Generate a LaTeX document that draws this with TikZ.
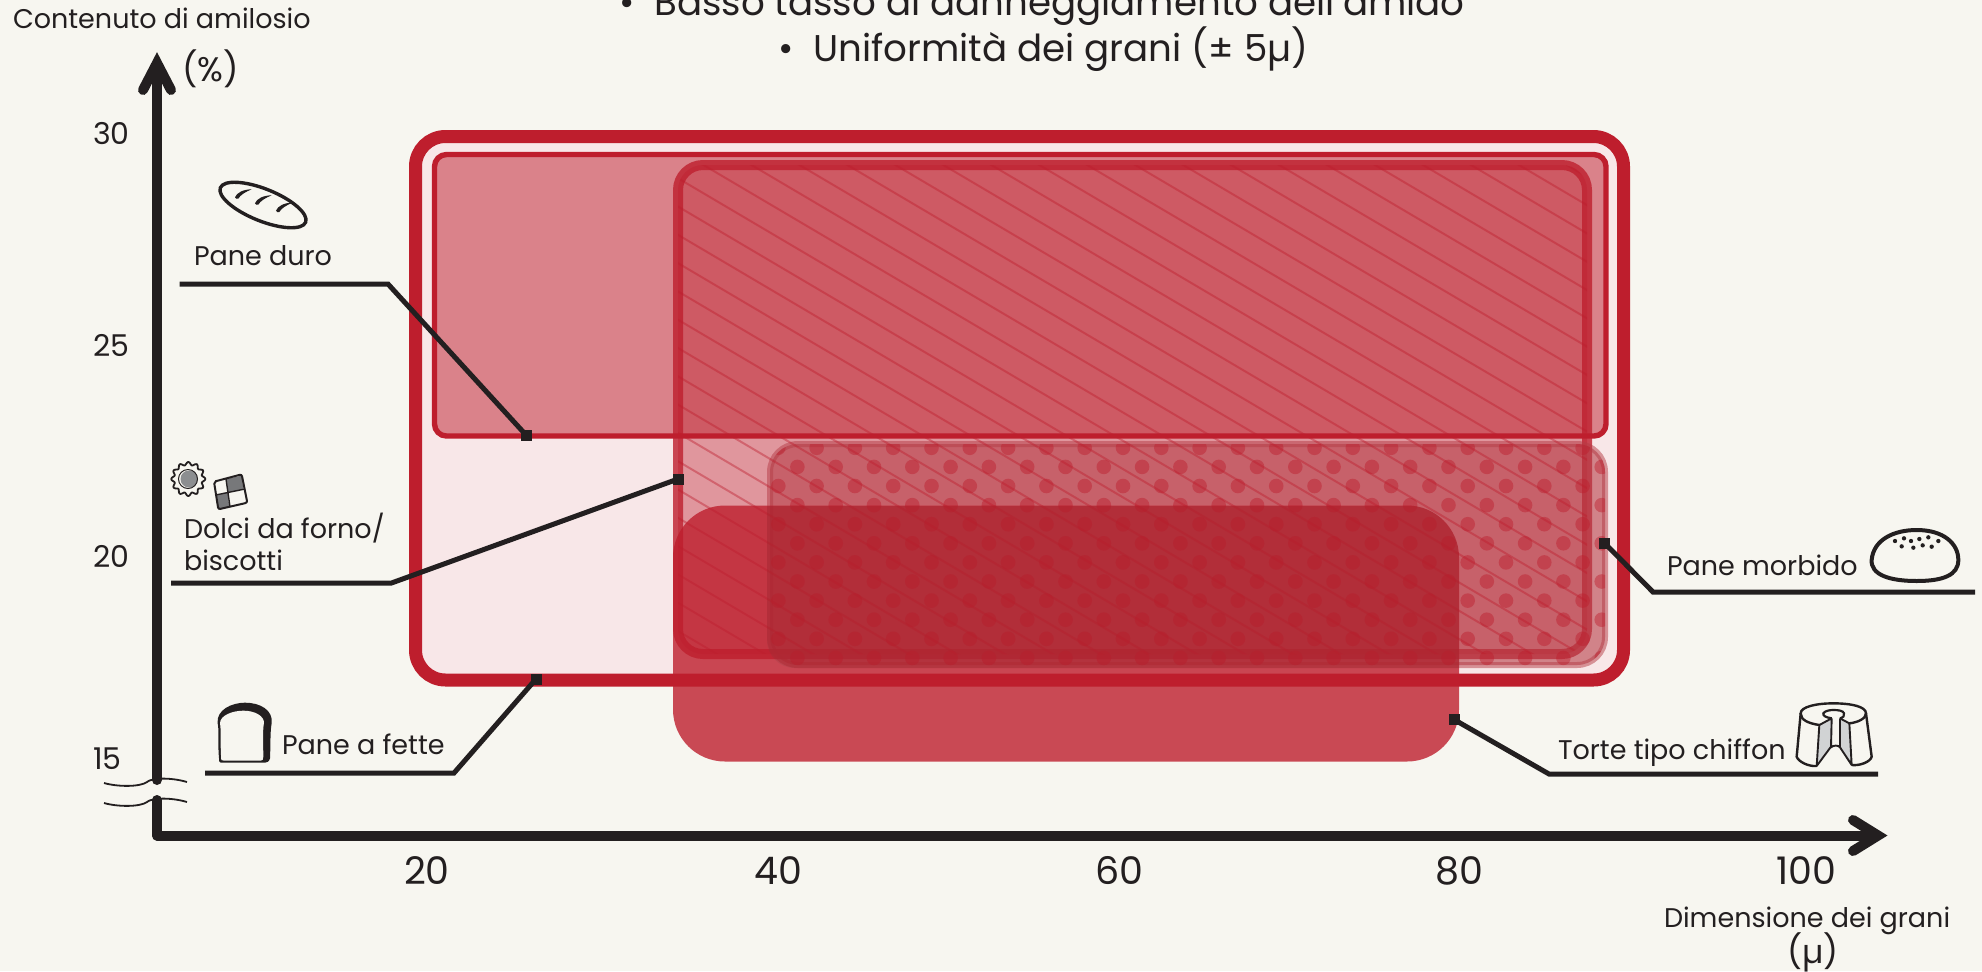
\documentclass[tikz,border=0pt]{standalone}
\usepackage{fontspec}
\setmainfont{Poppins}
\newcommand{\fsz}[1]{\fontsize{#1}{#1}\selectfont}
\definecolor{bgc}{HTML}{F7F6F0}
\definecolor{ink}{HTML}{231F20}
\definecolor{redc}{HTML}{BE1E2D}
\definecolor{palec}{HTML}{F8E7E8}
\definecolor{dotbox}{RGB}{181,60,70}
\definecolor{overlayc}{RGB}{120,60,60}
\definecolor{greyc}{HTML}{8C8E90}
\definecolor{lgrey}{HTML}{D1D3D4}
\tikzset{
  x=0.5pt,y=-0.5pt,
  txt/.style={inner sep=0pt,outer sep=0pt,text=ink},
  axisline/.style={draw=ink,line width=5pt},
  arrowhead/.style={draw=ink,line width=5pt,line cap=round,line join=miter},
  leader/.style={draw=ink,line width=2.5pt,line join=miter},
  endsq/.style={fill=ink,draw=none,minimum size=5.5pt,inner sep=0pt,outer sep=0pt},
  icon/.style={draw=ink,line width=1.7pt},
  outerbox/.style={draw=redc,fill=palec,line width=6.5pt,rounded corners=15pt},
  durobox/.style={draw=redc,fill=redc,fill opacity=.5,line width=2.7pt,rounded corners=6pt},
  dolcibox/.style={draw=redc,draw opacity=.8,line width=5pt,rounded corners=12.5pt},
  dotsbox/.style={draw=dotbox,draw opacity=.5,fill=dotbox,fill opacity=.58,line width=3pt,rounded corners=14pt},
  chiffbox/.style={fill=redc,fill opacity=.8,rounded corners=26pt},
  small/.style={txt,font=\fsz{13.5}},
  tick/.style={txt,font=\fsz{15}},
  xtick/.style={txt,font=\fsz{19}},
  headline/.style={txt,font=\fsz{18.6}},
}
\newcommand{\dotgrid}[1]{%
  \foreach \m in {-3,...,10}{
    \pgfmathsetmacro{\yy}{486+19.1*\m}
    \pgfmathsetmacro{\xo}{iseven(\m)?0:19.1}
    \foreach \n in {-1,...,22}{
      \fill[redc,fill opacity=#1] ({778.3+38.3*\n+\xo},\yy) circle[radius=7.3];
    }
  }}
\newcommand{\hatchgrid}[1]{%
  \foreach \k in {-32,...,16}{
    \draw[redc,draw opacity=#1,line width=1pt]
      (660,{209.3+.59*(660-682.7)+28.3*\k}) -- (1600,{209.3+.59*(1600-682.7)+28.3*\k});
  }}
\begin{document}
\begin{tikzpicture}
\useasboundingbox (0,0) rectangle (1982,971);
\fill[bgc] (0,0) rectangle (1982,971);

% regions
\draw[outerbox] (415.5,136.5) rectangle (1623.5,680);
\path[durobox] (434.5,154.5) rectangle (1606,436);
\fill[redc,fill opacity=.4,rounded corners=12.5pt] (678,165) rectangle (1587,654);
\path[dolcibox] (678,165) rectangle (1587,654);
\path[dotsbox] (770,444) rectangle (1605,665);
\begin{scope}
  \clip[rounded corners=14pt] (770,444) rectangle (1605,665);
  \dotgrid{.45}
\end{scope}
\begin{scope}
  \clip[rounded corners=12.5pt] (678,165) rectangle (1587,654);
  \hatchgrid{.42}
\end{scope}
\fill[chiffbox] (673,505.5) rectangle (1459,761.5);
\begin{scope}
  \clip[rounded corners=26pt] (673,505.5) rectangle (1459,761.5);
  \clip[rounded corners=14pt] (767,441) rectangle (1608,668);
  \fill[overlayc,fill opacity=.18] (673,505.5) rectangle (1459,761.5);
  \dotgrid{.25}
  \begin{scope}
    \clip (678,165) rectangle (1587,654);
    \hatchgrid{.15}
  \end{scope}
\end{scope}

% axes
\draw[axisline,line cap=round] (157,75) -- (157,780);
\draw[axisline,line join=round,line cap=round] (157,800) -- (157,835.5) -- (1875,835.5);
\draw[arrowhead] (143,90) -- (157,63) -- (171,90);
\draw[arrowhead] (1853,820) -- (1878,835.5) -- (1853,851);
% axis break
\foreach \d in {0,20}{
  \draw[ink,line width=.9pt,yshift=-0.5pt*\d]
    (104,783) .. controls (118,787) and (140,787) .. (147,782)
    .. controls (151,778) and (170,777) .. (187,782);
}

% texts
\node[small,anchor=base west] (ylab) at (13,28) {Contenuto di amilosio};
\node[txt,anchor=base west,font=\fsz{17}] (pct) at (182,81) {(\%)};
\node[tick,anchor=base west] (t30) at (93,144) {30};
\node[tick,anchor=base west] (t25) at (93,356) {25};
\node[tick,anchor=base west] (t20) at (93,567) {20};
\node[tick,anchor=base west] (t15) at (93,769.5) {15};
\node[xtick,anchor=base] (x20) at (427,884) {20};
\node[xtick,anchor=base] (x40) at (778,884) {40};
\node[xtick,anchor=base] (x60) at (1119,884) {60};
\node[xtick,anchor=base] (x80) at (1459,884) {80};
\node[xtick,anchor=base] (x100) at (1806,884) {100};
\node[small,anchor=base west] (xlab) at (1664,927) {Dimensione dei grani};
\node[txt,anchor=base,font=\fsz{16.5}] (mu) at (1813,963) {(µ)};
\node[headline,anchor=base west] (t1) at (619,15) {•\hspace{10pt}Basso tasso di danneggiamento dell'amido};
\node[headline,anchor=base west] (t2) at (778,61) {•\hspace{10pt}Uniformità dei grani (± 5µ)};

\node[small,anchor=base west] (lduro) at (194,265) {Pane duro};
\node[small,anchor=base west] (ldolci) at (184,538) {Dolci da forno/};
\node[small,anchor=base west] (lbisc) at (184,570) {biscotti};
\node[small,anchor=base west] (lfette) at (282,754.6) {Pane a fette};
\node[small,anchor=base west] (lmorb) at (1667,575.7) {Pane morbido};
\node[small,anchor=base west] (lchif) at (1558,759) {Torte tipo chiffon};

% leaders
\node[endsq] (sduro) at (526,435) {};
\node[endsq] (sdolci) at (678,479) {};
\node[endsq] (sfette) at (536,679) {};
\node[endsq] (smorb) at (1604.5,543) {};
\node[endsq] (schif) at (1454,719.5) {};
\coordinate (aduro) at (179.5,284);
\coordinate (bduro) at (388,284);
\coordinate (adolci) at (171,583);
\coordinate (bdolci) at (391.5,583);
\coordinate (afette) at (205,773);
\coordinate (bfette) at (454,773);
\coordinate (amorb) at (1975,592);
\coordinate (bmorb) at (1653,592);
\coordinate (achif) at (1878,774);
\coordinate (bchif) at (1549,774);
\draw[leader] (aduro) -- (bduro) -- (sduro.center);
\draw[leader] (adolci) -- (bdolci) -- (sdolci.center);
\draw[leader] (afette) -- (bfette) -- (sfette.center);
\draw[leader] (amorb) -- (bmorb) -- (smorb.center);
\draw[leader] (achif) -- (bchif) -- (schif.center);

% baguette
\draw[icon] (263,205) ellipse[x radius=46,y radius=16,rotate=-22];
\begin{scope}[shift={(200,170)},x=1/6*1pt,y=-1/6*1pt]
  \foreach \a/\b in {105/82,165/100,228/122}{
    \fill[ink] (\a,\b) .. controls (\a+5,\b-14) and (\a+25,\b-24) .. (\a+50,\b-24)
      .. controls (\a+30,\b-16) and (\a+15,\b-6) .. (\a+10,\b+4) .. controls (\a+6,\b+6) and (\a+1,\b+4) .. (\a,\b) -- cycle;
  }
\end{scope}

% round biscuit
\draw[ink,line width=.9pt] plot[domain=0:360,samples=145,smooth] ({188.3+(15.5+1.5*cos(12*\x))*cos(\x)},{479+(15.5+1.5*cos(12*\x))*sin(\x)});
\fill[greyc] (189,479) circle[radius=8.5];
\draw[ink,line width=.5pt] (188,479) circle[radius=9.5];

% square biscuit
\begin{scope}[shift={(160,450)},x=1/6*1pt,y=-1/6*1pt]
  \coordinate (p1) at (162,95); \coordinate (p2) at (245,73);
  \coordinate (p3) at (262,158); \coordinate (p4) at (175,178);
  \fill[greyc!80!ink] (198,87) -- (245,77) -- (250,118) -- (203,128) -- cycle;
  \fill[greyc!80!ink] (168,135) -- (203,128) -- (208,170) -- (175,176) -- cycle;
  \draw[ink,line width=1pt,rounded corners=1pt] (p1) -- (p2) -- (p3) -- (p4) -- cycle;
  \draw[ink,line width=.7pt] (198,87) -- (210,170);
  \draw[ink,line width=.7pt] (167,135) -- (255,117);
\end{scope}

% sliced bread
\begin{scope}[shift={(200,690)},x=1/6*1pt,y=-1/6*1pt]
  \fill[ink] (58,215) .. controls (52,160) and (58,120) .. (53,100)
    .. controls (48,60) and (95,38) .. (135,38) .. controls (180,38) and (220,60) .. (215,100)
    .. controls (210,125) and (212,170) .. (210,205) .. controls (208,215) and (200,218) .. (195,218) -- (70,218) .. controls (62,218) and (60,218) .. (58,215) -- cycle;
  \fill[bgc] (64,210) .. controls (60,160) and (64,120) .. (60,100)
    .. controls (60,75) and (100,62) .. (130,62) .. controls (165,62) and (192,78) .. (192,98)
    .. controls (187,125) and (190,170) .. (190,200) .. controls (190,208) and (188,212) .. (182,212) -- (72,212) .. controls (68,212) and (66,212) .. (64,210) -- cycle;
\end{scope}

% bun
\begin{scope}[shift={(1780,510)},x=1/6*1pt,y=-1/6*1pt]
  \draw[ink,line width=2pt] (275,150) .. controls (280,90) and (340,60) .. (410,60)
    .. controls (490,60) and (535,100) .. (535,150)
    .. controls (535,195) and (490,213) .. (410,213)
    .. controls (330,213) and (272,195) .. (275,150) -- cycle;
  \foreach \a/\b in {345/93,372/85,393/93,418/87,445/82,475/93,365/109,400/113,428/106,455/110}{
    \fill[ink] (\a,\b) circle[radius=6.5];
  }
\end{scope}

% chiffon cake
\begin{scope}[shift={(1780,690)},x=1/6*1pt,y=-1/6*1pt]
  \fill[lgrey] (118,105) -- (155,85) -- (153,170) -- (110,228) -- cycle;
  \fill[lgrey] (180,85) -- (208,100) -- (215,225) -- (180,175) -- cycle;
  \draw[ink,line width=.95pt,line join=round]
    (118,105) -- (155,85) (153,170) -- (110,228) -- (118,105)
    (180,85) -- (208,100) -- (215,225) -- (180,172)
    (155,85) -- (153,172) .. controls (160,165) and (175,165) .. (180,172) -- (180,85);
  \draw[ink,line width=1.2pt]
    (118,105) .. controls (85,100) and (62,90) .. (62,70)
    .. controls (62,50) and (110,40) .. (160,40)
    .. controls (215,40) and (258,50) .. (258,70)
    .. controls (258,85) and (235,97) .. (208,100);
  \draw[ink,line width=1.2pt] (62,70) -- (50,200) .. controls (55,215) and (85,230) .. (110,228);
  \draw[ink,line width=1.2pt] (258,70) -- (275,200) .. controls (272,215) and (240,228) .. (215,225);
  \draw[ink,line width=1.1pt] (155,85) .. controls (135,82) and (128,76) .. (130,70) .. controls (135,62) and (150,60) .. (160,60) .. controls (175,60) and (190,62) .. (192,70) .. controls (194,78) and (190,82) .. (180,85);
\end{scope}
\end{tikzpicture}
\end{document}
